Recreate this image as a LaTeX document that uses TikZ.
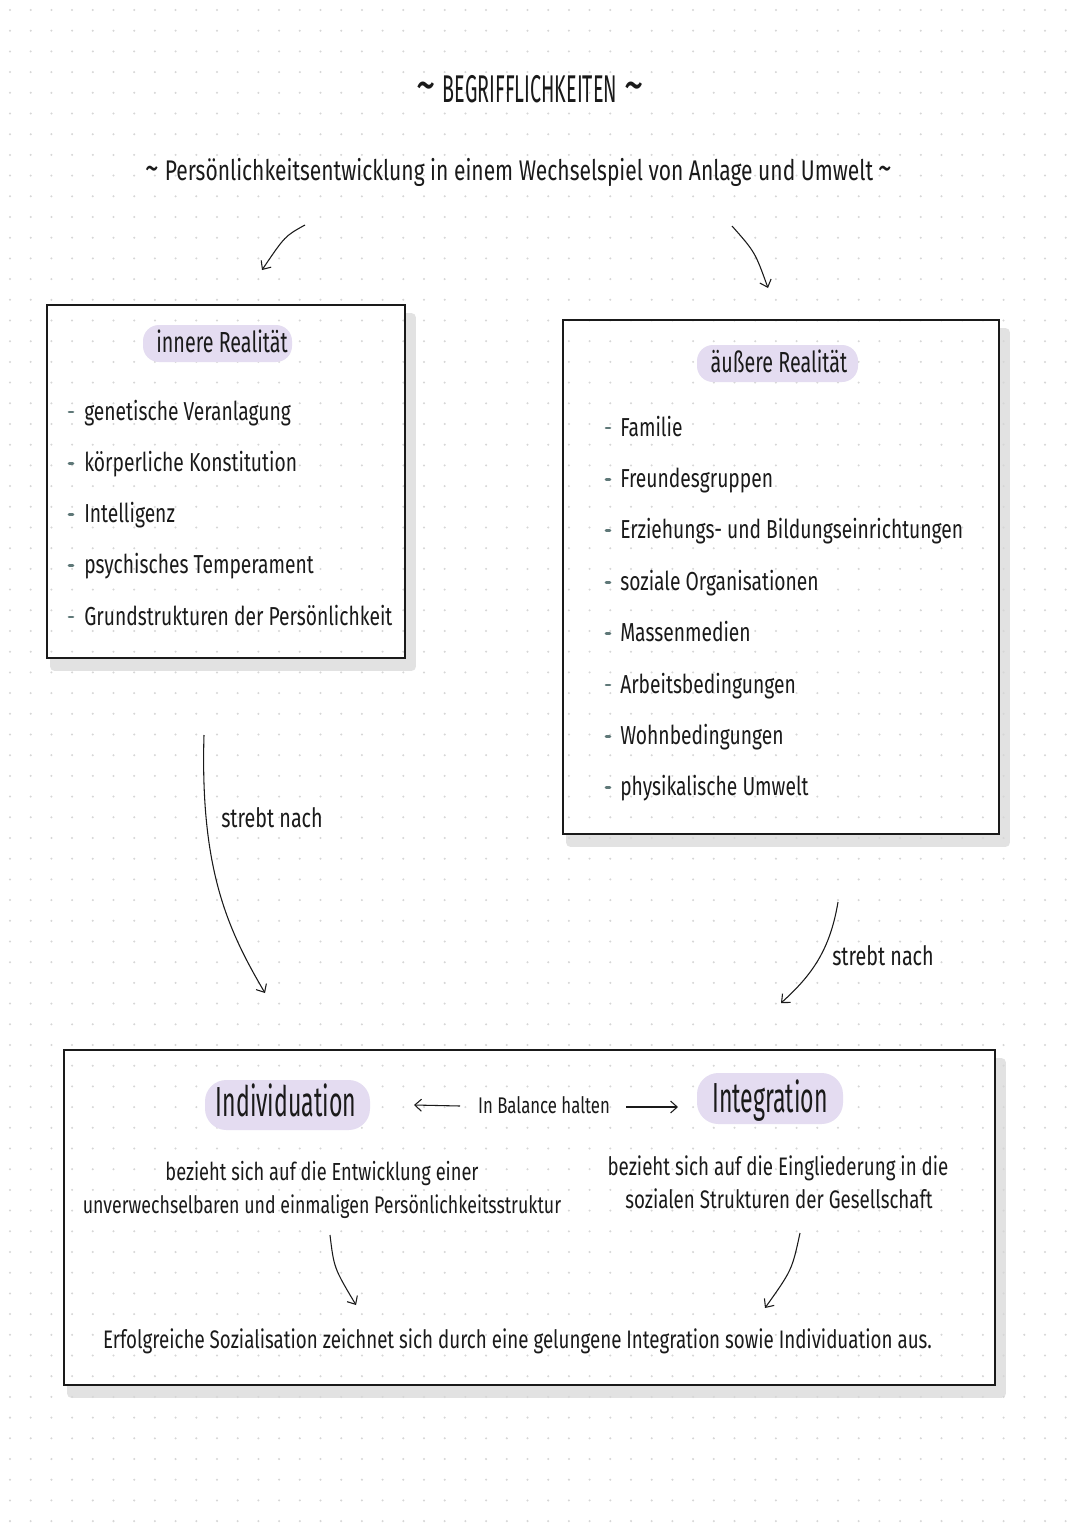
\documentclass[tikz,border=0pt]{standalone}
\usepackage{fontspec}
\setmainfont{Fira Sans}
\newfontfamily\fBody{Fira Sans}[FakeStretch=0.74]
\newfontfamily\fMid{Fira Sans}[FakeStretch=0.68]
\newfontfamily\fHead{Fira Sans}[FakeStretch=0.55]
\newfontfamily\fTitle{Fira Sans}[FakeStretch=0.51]
\usetikzlibrary{arrows.meta,calc}
\pgfdeclarelayer{bg}
\pgfdeclarelayer{dots}
\pgfsetlayers{bg,dots,main}
\definecolor{lav}{HTML}{E4DCF1}
\definecolor{dotc}{HTML}{D6D6D6}
\definecolor{dashc}{HTML}{5F7878}
\definecolor{ink}{HTML}{1A1A1A}
\definecolor{shadowc}{HTML}{E2E2E2}
\newcommand{\bigtilde}[1]{{\fontsize{#1}{#1}\selectfont\textasciitilde}}
\begin{document}
\begin{tikzpicture}[x=0.75pt,y=-0.75pt,
  box/.style={draw=ink, line width=1.2pt, inner sep=0, fill=none},
  txt/.style={inner sep=0, text=ink},
  item/.style={txt, anchor=base west, font=\fBody\fontsize{19.5}{24}\selectfont},
  body/.style={txt, anchor=base, font=\fBody\fontsize{18.5}{22}\selectfont},
  head/.style={txt, anchor=base, font=\fMid\fontsize{21.75}{26}\selectfont},
  bighead/.style={txt, anchor=base, font=\fHead\fontsize{31.5}{36}\selectfont},
  conn/.style={draw=ink, line width=0.8pt, -{Straight Barb[length=5pt,width=9pt]}},
  bullet/.style={draw=dashc, line width=2pt, line cap=round},
  blob/.style={fill=lav, rounded corners=12pt}]
\useasboundingbox (0,0) rectangle (1080,1528);

% boxes
\node[box, minimum width={358*0.75pt}, minimum height={353*0.75pt}] (boxL) at (226,481.5) {};
\node[box, minimum width={436*0.75pt}, minimum height={514*0.75pt}] (boxR) at (781,577) {};
\node[box, minimum width={931*0.75pt}, minimum height={335*0.75pt}] (boxB) at (529.5,1217.5) {};

\begin{pgfonlayer}{bg}
  \fill[white] (0,0) rectangle (1080,1528);
  \foreach \b in {boxL,boxR,boxB}{
    \fill[shadowc, rounded corners=3pt] ($(\b.north west)+(4,9)$) rectangle ($(\b.south east)+(10,12)$);
    \fill[white] (\b.north west) rectangle (\b.south east);
  }
\end{pgfonlayer}
\begin{pgfonlayer}{dots}
  \foreach \i in {0,...,52}{
    \foreach \j in {0,...,74}{
      \fill[dotc] ({10+20.7*\i},{10+20.7*\j}) circle (0.85pt);
    }
  }
  \fill[blob] (143,325) rectangle (292,362);
  \fill[blob] (697,345) rectangle (858,382);
  \fill[blob, rounded corners=16pt] (205,1080) rectangle (370,1130);
  \fill[blob, rounded corners=16pt] (697,1073) rectangle (843,1124);
\end{pgfonlayer}

% title and subtitle
\node[txt, anchor=base, font=\fBody\fontsize{29}{34}\selectfont] (title) at (530,102)
  {\bigtilde{40}\ {\fTitle BEGRIFFLICHKEITEN}\ \bigtilde{40}};
\node[txt, anchor=base, font=\fBody\fontsize{21.3}{26}\selectfont] (sub) at (519,180)
  {\bigtilde{28}\ Persönlichkeitsentwicklung in einem Wechselspiel von Anlage und Umwelt\ \bigtilde{28}};

% headings
\node[head] (hL) at (222,352) {innere Realität};
\node[head] (hR) at (779,372) {äußere Realität};

% left items
\foreach \t [count=\i] in {genetische Veranlagung, körperliche Konstitution, Intelligenz, psychisches Temperament, Grundstrukturen der Persönlichkeit}{
  \node[item] (L\i) at (84,{420+51.25*(\i-1)}) {\t};
  \draw[bullet] ($(L\i.base west)+(-15,-8)$) -- ++(4,0);
}
% right items
\foreach \t [count=\i] in {Familie, Freundesgruppen, Erziehungs- und Bildungseinrichtungen, soziale Organisationen, Massenmedien, Arbeitsbedingungen, Wohnbedingungen, physikalische Umwelt}{
  \node[item] (R\i) at (620,{436+51.4*(\i-1)}) {\t};
  \draw[bullet] ($(R\i.base west)+(-14,-8)$) -- ++(4,0);
}

% strebt nach labels
\node[txt, anchor=base west, font=\fBody\fontsize{20}{24}\selectfont] (sL) at (221,827) {strebt nach};
\node[txt, anchor=base west, font=\fBody\fontsize{20}{24}\selectfont] (sR) at (832,965) {strebt nach};

% bottom box content
\node[bighead] (ind) at (286,1116) {Individuation};
\node[bighead] (int) at (770,1112) {Integration};
\node[txt, anchor=base, font=\fBody\fontsize{17}{20}\selectfont] (bal) at (544,1113) {In Balance halten};
\node[body] (bi1) at (322,1180) {bezieht sich auf die Entwicklung einer};
\node[body, font=\fBody\fontsize{18}{22}\selectfont] (bi2) at (322,1213) {unverwechselbaren und einmaligen Persönlichkeitsstruktur};
\node[body, font=\fBody\fontsize{19}{22}\selectfont] (bg1) at (778,1175) {bezieht sich auf die Eingliederung in die};
\node[body, font=\fBody\fontsize{19}{22}\selectfont] (bg2) at (779,1208) {sozialen Strukturen der Gesellschaft};
\node[txt, anchor=base, font=\fBody\fontsize{19}{23}\selectfont] (fin) at (517.5,1348)
  {Erfolgreiche Sozialisation zeichnet sich durch eine gelungene Integration sowie Individuation aus.};

% connector end points
\coordinate (a1s) at (305,225); \coordinate (a1e) at (262,270);
\coordinate (a2s) at (732,226); \coordinate (a2e) at (768,288);
\coordinate (a3s) at (204,735); \coordinate (a3e) at (265,993);
\coordinate (a4s) at (838,902); \coordinate (a4e) at (781,1003);
\coordinate (b1s) at (460,1106); \coordinate (b1e) at (414,1105);
\coordinate (b2s) at (626,1107); \coordinate (b2e) at (678,1107);
\coordinate (c1s) at (330,1235); \coordinate (c1e) at (356,1305);
\coordinate (c2s) at (800,1233); \coordinate (c2e) at (765,1308);

\draw[conn] (a1s) .. controls (285,236) .. (a1e);
\draw[conn] (a2s) .. controls (755,252) .. (a2e);
\draw[conn] (a3s) .. controls (200,870) and (228,930) .. (a3e);
\draw[conn] (a4s) .. controls (830,950) and (812,975) .. (a4e);
\draw[conn] (b1s) -- (b1e);
\draw[conn] (b2s) -- (b2e);
\draw[conn] (c1s) .. controls (334,1268) .. (c1e);
\draw[conn] (c2s) .. controls (792,1270) .. (c2e);
\end{tikzpicture}
\end{document}
